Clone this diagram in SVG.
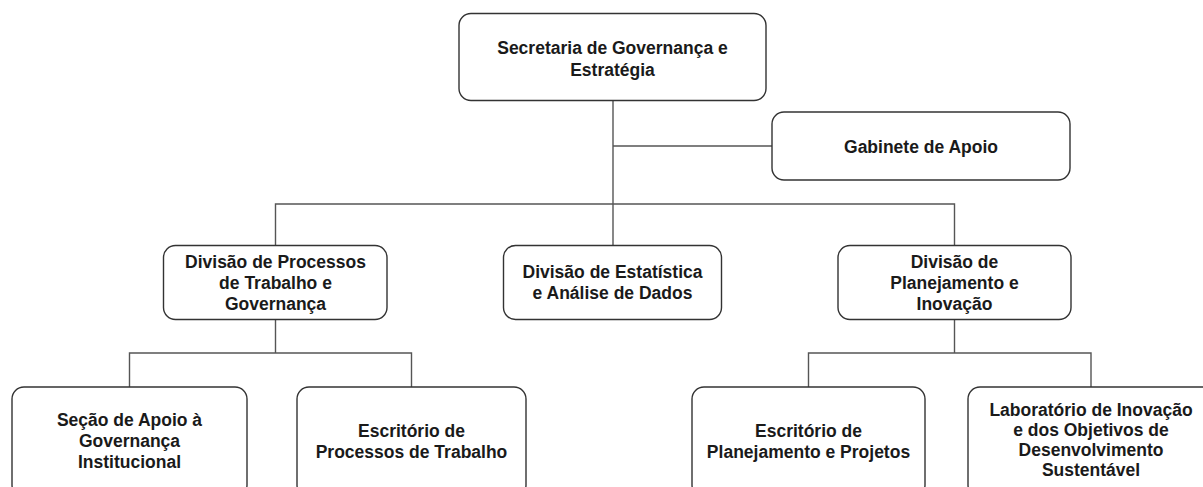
<svg xmlns="http://www.w3.org/2000/svg" width="1203" height="487" viewBox="0 0 1203 487">
<style>
.box{fill:#ffffff;stroke:#333333;stroke-width:1.4}
.lbl{font-family:"Liberation Sans",Arial,Helvetica,sans-serif;font-weight:bold;font-size:17.5px;fill:#1a1a1a;text-anchor:middle}
.conn{fill:none;stroke:#555555;stroke-width:1.4}
</style>
<rect width="1203" height="487" fill="#ffffff"/>
<g id="connectors">
<path class="conn" d="M613,100.5 V245.5"/>
<path class="conn" d="M613,146 H772"/>
<path class="conn" d="M275.5,245.5 V204 H954.5 V245.5"/>
<path class="conn" d="M275.5,319.5 V353"/>
<path class="conn" d="M129.5,387 V353 H411.5 V387"/>
<path class="conn" d="M954.5,319.5 V353"/>
<path class="conn" d="M808.5,387 V353 H1091 V387"/>
</g>
<g id="secretaria">
<rect class="box" x="459" y="13.5" width="307" height="87" rx="12"/>
<text class="lbl" x="612.5" y="53.5">Secretaria de Governança e</text>
<text class="lbl" x="612.5" y="75.5">Estratégia</text>
</g>
<g id="gabinete">
<rect class="box" x="772" y="112" width="298" height="68" rx="12"/>
<text class="lbl" x="921" y="153">Gabinete de Apoio</text>
</g>
<g id="div-processos">
<rect class="box" x="163.5" y="245.5" width="223.5" height="74" rx="12"/>
<text class="lbl" x="275.5" y="268">Divisão de Processos</text>
<text class="lbl" x="275.5" y="289">de Trabalho e</text>
<text class="lbl" x="275.5" y="310">Governança</text>
</g>
<g id="div-estatistica">
<rect class="box" x="503.5" y="245.5" width="218" height="74" rx="12"/>
<text class="lbl" x="612.5" y="278">Divisão de Estatística</text>
<text class="lbl" x="612.5" y="299">e Análise de Dados</text>
</g>
<g id="div-planejamento">
<rect class="box" x="838" y="245.5" width="233" height="74" rx="12"/>
<text class="lbl" x="954.5" y="268">Divisão de</text>
<text class="lbl" x="954.5" y="289">Planejamento e</text>
<text class="lbl" x="954.5" y="310">Inovação</text>
</g>
<g id="secao-apoio">
<rect class="box" x="12" y="387" width="235" height="110" rx="12"/>
<text class="lbl" x="129.5" y="426">Seção de Apoio à</text>
<text class="lbl" x="129.5" y="447">Governança</text>
<text class="lbl" x="129.5" y="468">Institucional</text>
</g>
<g id="escritorio-processos">
<rect class="box" x="297" y="387" width="229" height="110" rx="12"/>
<text class="lbl" x="411.5" y="436.5">Escritório de</text>
<text class="lbl" x="411.5" y="457.5">Processos de Trabalho</text>
</g>
<g id="escritorio-planejamento">
<rect class="box" x="692" y="387" width="233" height="110" rx="12"/>
<text class="lbl" x="808.5" y="436.5">Escritório de</text>
<text class="lbl" x="808.5" y="457.5">Planejamento e Projetos</text>
</g>
<g id="laboratorio">
<rect class="box" x="968" y="387" width="246" height="110" rx="12"/>
<text class="lbl" x="1091" y="416">Laboratório de Inovação</text>
<text class="lbl" x="1091" y="436">e dos Objetivos de</text>
<text class="lbl" x="1091" y="456">Desenvolvimento</text>
<text class="lbl" x="1091" y="476">Sustentável</text>
</g>
</svg>
